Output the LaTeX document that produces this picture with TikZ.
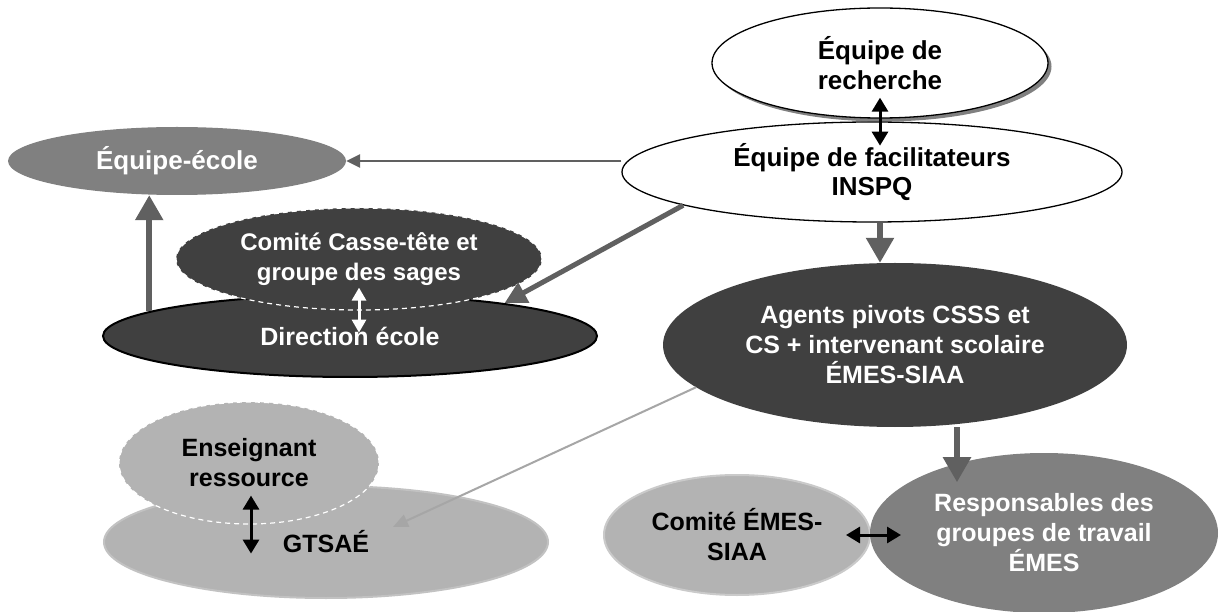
\documentclass[tikz,border=0pt]{standalone}
\usepackage{fontspec}
\setmainfont{Liberation Sans}
\usetikzlibrary{shapes.geometric,arrows.meta,shadows}
\definecolor{dk}{HTML}{404040}
\definecolor{md}{HTML}{808080}
\definecolor{lt}{HTML}{B3B3B3}
\definecolor{arr}{HTML}{606060}
\definecolor{larr}{HTML}{A6A6A6}
\begin{document}
\begin{tikzpicture}[x=1pt,y=-1pt,
  el/.style={ellipse, inner sep=0pt, align=center, font=\fontsize{25}{30}\selectfont\bfseries},
  whiteel/.style={el, fill=white, draw=black, line width=1.3pt},
  darkel/.style={el, fill=dk, text=white},
  midel/.style={el, fill=md, text=white},
  lightel/.style={el, fill=lt, text=black},
  dashrim/.style={draw=white, dashed, dash pattern=on 5pt off 4pt, line width=1.2pt},
  bigarrow/.style={draw=arr, line width=5.5pt, -{Triangle[length=25pt,width=27pt]}},
  diagarrow/.style={draw=arr, line width=5pt, -{Triangle[length=22pt,width=22pt]}},
  thinarrow/.style={draw=arr, line width=2.5pt, -{Triangle[length=14pt,width=13pt]}},
  lightarrow/.style={draw=larr, line width=2pt, -{Triangle[length=15pt,width=13pt]}},
  blackdbl/.style={draw=black, line width=3pt, {Triangle[length=14pt,width=16pt]}-{Triangle[length=14pt,width=16pt]}},
  whitedbl/.style={draw=white, line width=3pt, {Triangle[length=13pt,width=14pt]}-{Triangle[length=13pt,width=14pt]}}
]
\useasboundingbox[fill=white] (0,0) rectangle (1219,612);

% top
\node[whiteel, minimum width=336pt, minimum height=110pt,
      drop shadow={shadow xshift=3.5pt, shadow yshift=-3.5pt, fill=md, opacity=1},
      font=\fontsize{26}{30}\selectfont\bfseries] (rech) at (880,63) {Équipe de\\recherche};
\node[whiteel, minimum width=500pt, minimum height=100pt,
      font=\fontsize{26}{29}\selectfont\bfseries] (facil) at (872,172) {Équipe de facilitateurs\\INSPQ};

% left
\node[midel, minimum width=338pt, minimum height=68pt,
      font=\fontsize{26}{30}\selectfont\bfseries] (ecole) at (177,161) {Équipe-école};
\node[darkel, draw=black, line width=2pt, minimum width=494pt, minimum height=82pt] (direction) at (350,336) {Direction école};
\node[darkel, dashrim, minimum width=366pt, minimum height=102pt,
      font=\fontsize{24}{30}\selectfont\bfseries] (comite) at (359,259) {Comité Casse-tête et\\groupe des sages};

% lower left
\node[lightel, draw=lt!80!white, line width=2pt, minimum width=444pt, minimum height=112pt] (gtsae) at (326,542) {GTSAÉ};
\node[lightel, dashrim, minimum width=260pt, minimum height=122pt] (enseig) at (249,463) {Enseignant\\ressource};

% right
\node[darkel, minimum width=464pt, minimum height=164pt] (agents) at (895,345) {Agents pivots CSSS et\\CS + intervenant scolaire\\ÉMES-SIAA};
\node[lightel, draw=lt!70!white, line width=2pt, minimum width=266pt, minimum height=120pt] (cemes) at (737,535) {Comité ÉMES-\\SIAA};
\node[midel, minimum width=348pt, minimum height=160pt] (resp) at (1044,533) {Responsables des\\groupes de travail\\ÉMES};

% connectors
\draw[blackdbl] ([yshift=21pt]rech.south) -- ([yshift=-27pt]rech.south);
\draw[thinarrow] (ecole.east -| facil.west) -- (ecole.east);
\draw[bigarrow] (direction.173.6) -- (direction.173.6 |- ecole.south);
\draw[diagarrow] (facil.190.5) -- (direction.12);
\draw[whitedbl] ([yshift=23pt]comite.south) -- ([yshift=-22pt]comite.south);
\draw[bigarrow] ([xshift=8pt]facil.south) -- ([xshift=8pt]facil.south |- agents.north);
\draw[lightarrow] (agents.192.4) -- ([xshift=67pt,yshift=15pt]gtsae.center);
\draw[blackdbl] ([xshift=2pt,yshift=29pt]enseig.south) -- ([xshift=2pt,yshift=-29pt]enseig.south);
\draw[bigarrow] ([xshift=62pt]agents.south) -- ([xshift=62pt,yshift=-55pt]agents.south);
\draw[blackdbl] ([xshift=-25pt]cemes.east) -- ([xshift=30pt]cemes.east);
\end{tikzpicture}
\end{document}
